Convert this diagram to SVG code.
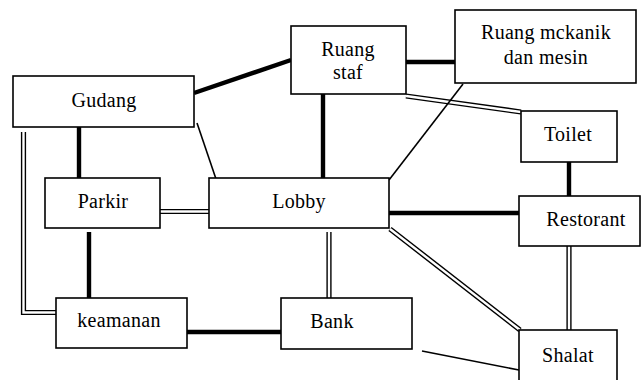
<svg xmlns="http://www.w3.org/2000/svg" width="642" height="380" viewBox="0 0 642 380">
<style>
.box{fill:#fff;stroke:#000;stroke-width:1.6}
.t{font-family:"Liberation Serif","Times New Roman",serif;font-size:20px;letter-spacing:0.3px;fill:#000;text-anchor:middle}
.thick{stroke:#000;stroke-width:4.4;fill:none}
.thin{stroke:#000;stroke-width:1.6;fill:none}
.dblo{stroke:#000;stroke-width:5.2;fill:none}
.dbli{stroke:#fff;stroke-width:2.4;fill:none}
</style>
<rect width="642" height="380" fill="#fff"/>
<g id="connectors">
<line class="thick" x1="194" y1="93" x2="291" y2="60"/>
<line class="thin" x1="197" y1="123" x2="216" y2="179"/>
<line class="thick" x1="79" y1="127" x2="79" y2="178"/>
<path class="dblo" d="M23.5,132 V312.5 H56"/>
<path class="dbli" d="M23.5,132 V312.5 H56"/>
<line class="thick" x1="406" y1="62" x2="455" y2="62"/>
<line class="thick" x1="323" y1="94" x2="323" y2="178"/>
<line class="dblo" x1="406" y1="96" x2="521" y2="112"/>
<line class="dbli" x1="406" y1="96" x2="521" y2="112"/>
<line class="thin" x1="463" y1="84" x2="389" y2="180"/>
<line class="thick" x1="569" y1="162" x2="569" y2="196"/>
<line class="dblo" x1="160" y1="211.5" x2="209" y2="211.5"/>
<line class="dbli" x1="160" y1="211.5" x2="209" y2="211.5"/>
<line class="thick" x1="89" y1="232" x2="89" y2="298"/>
<line class="thick" x1="389" y1="213" x2="519" y2="213"/>
<line class="dblo" x1="329" y1="232" x2="329" y2="298"/>
<line class="dbli" x1="329" y1="232" x2="329" y2="298"/>
<line class="dblo" x1="390" y1="229" x2="520" y2="330"/>
<line class="dbli" x1="390" y1="229" x2="520" y2="330"/>
<line class="dblo" x1="569" y1="246" x2="569" y2="330"/>
<line class="dbli" x1="569" y1="246" x2="569" y2="330"/>
<line class="thick" x1="187" y1="332" x2="281" y2="332"/>
<line class="thin" x1="422" y1="351" x2="519" y2="370"/>
</g>
<g id="gudang"><rect class="box" x="13" y="76" width="181" height="51"/><text class="t" x="104" y="107">Gudang</text></g>
<g id="ruang-staf"><rect class="box" x="291" y="26" width="115" height="68"/><text class="t" x="348" y="56">Ruang</text><text class="t" x="348" y="79">staf</text></g>
<g id="ruang-mekanik"><rect class="box" x="455" y="10" width="181" height="73"/><text class="t" x="546" y="39">Ruang mckanik</text><text class="t" x="546" y="64">dan mesin</text></g>
<g id="toilet"><rect class="box" x="521" y="111" width="96" height="51"/><text class="t" x="568" y="141">Toilet</text></g>
<g id="parkir"><rect class="box" x="45" y="178" width="115" height="50"/><text class="t" x="103" y="208">Parkir</text></g>
<g id="lobby"><rect class="box" x="209" y="178" width="180" height="50"/><text class="t" x="299" y="208">Lobby</text></g>
<g id="restorant"><rect class="box" x="519" y="196" width="121" height="50"/><text class="t" x="586" y="226">Restorant</text></g>
<g id="keamanan"><rect class="box" x="56" y="298" width="131" height="50"/><text class="t" x="119" y="327">keamanan</text></g>
<g id="bank"><rect class="box" x="281" y="298" width="131" height="51"/><text class="t" x="332" y="328">Bank</text></g>
<g id="shalat"><rect class="box" x="519" y="330" width="98" height="52"/><text class="t" x="568" y="362">Shalat</text></g>
</svg>
